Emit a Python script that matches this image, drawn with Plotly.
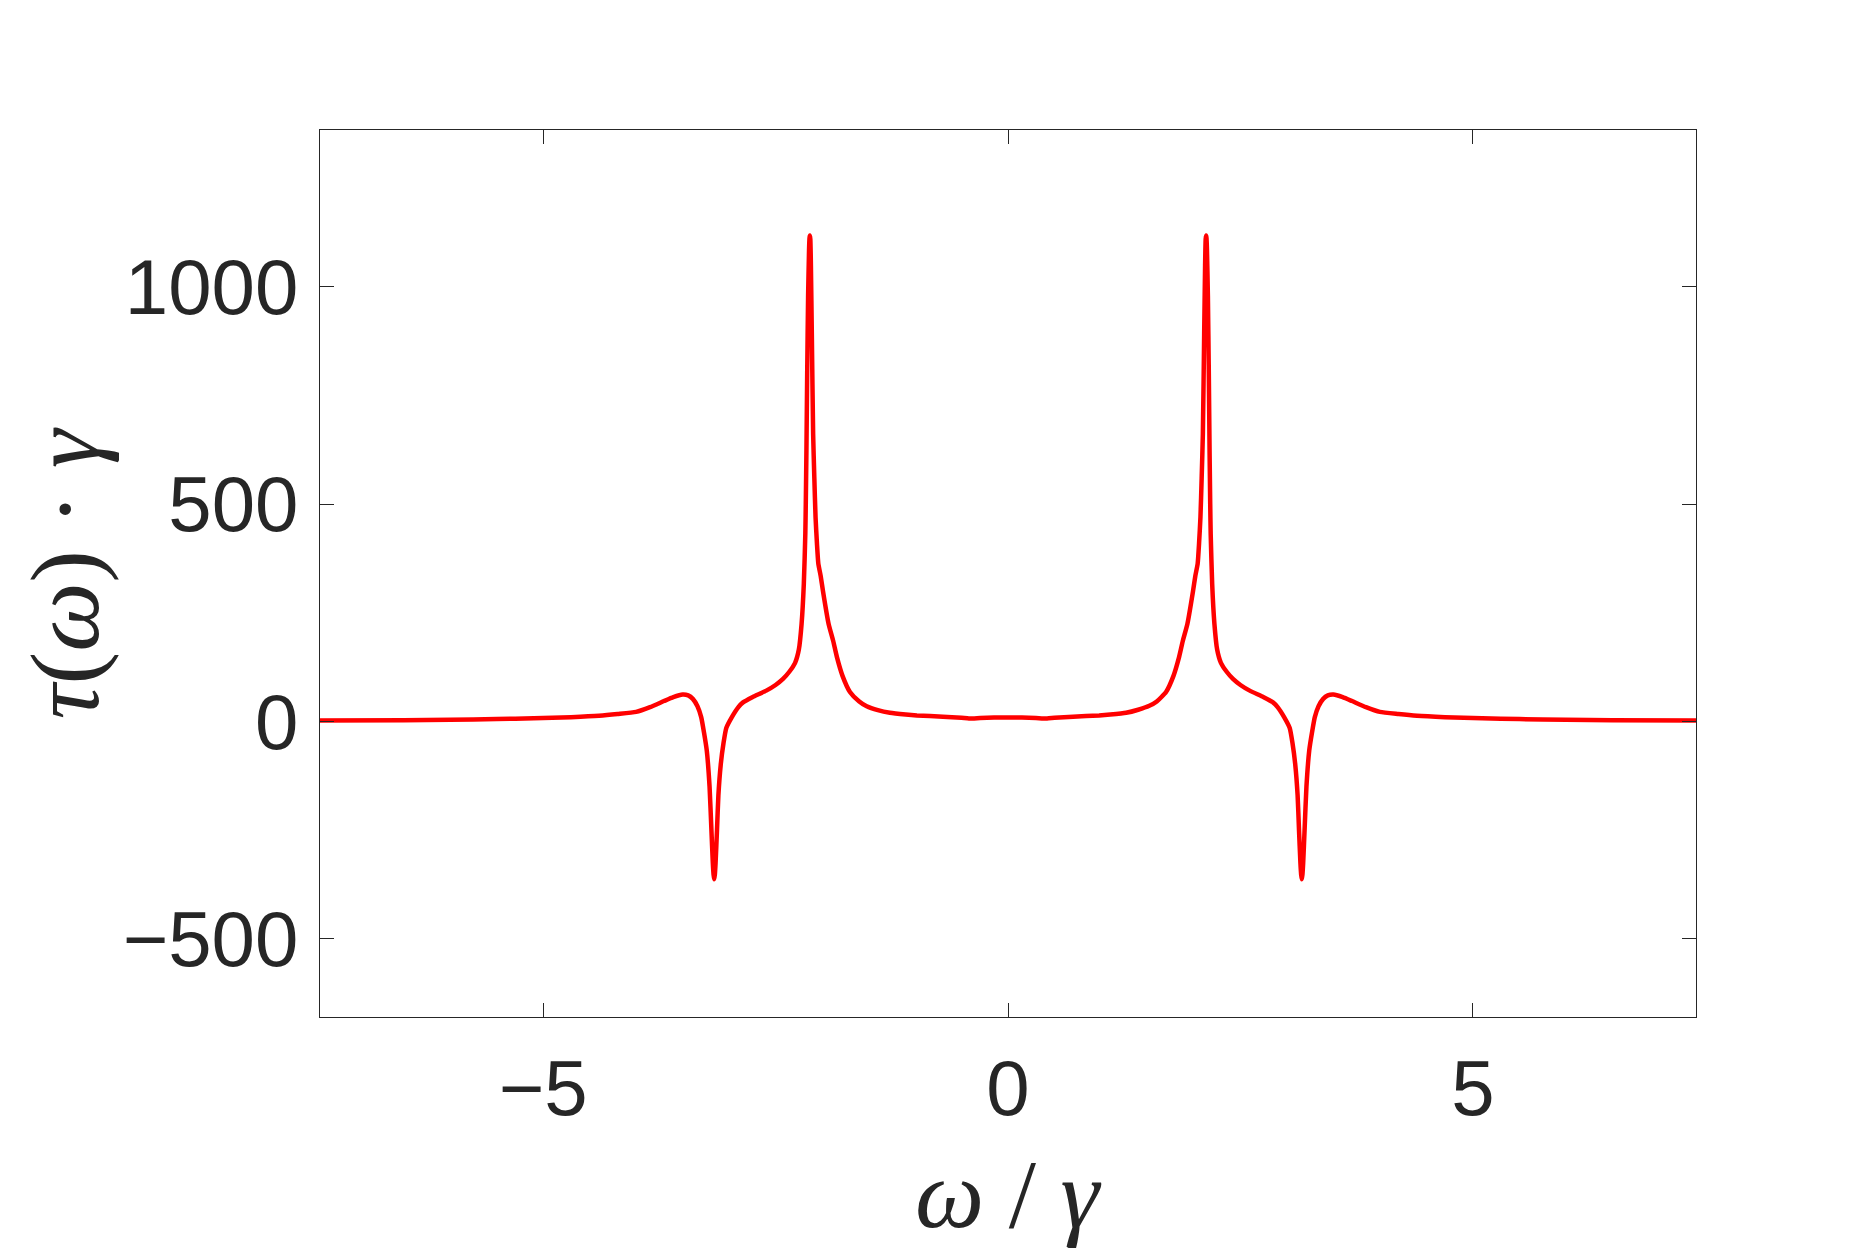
import plotly.graph_objects as go

# omega / gamma
omega = [
    -7.40, -6.50, -6.00, -5.50, -5.10, -4.70, -4.40, -4.20, -4.00, -3.85,
    -3.70, -3.60, -3.50, -3.44, -3.39, -3.34, -3.30, -3.27, -3.24, -3.21,
    -3.19, -3.175, -3.167, -3.16, -3.153, -3.145, -3.13, -3.115, -3.09, -3.06,
    -3.03, -2.97, -2.90, -2.85, -2.75, -2.60, -2.50, -2.42, -2.35, -2.29,
    -2.25, -2.22, -2.196, -2.18, -2.175, -2.168, -2.160, -2.150, -2.140, -2.135,
    -2.131, -2.126, -2.120, -2.110, -2.096, -2.083, -2.070, -2.055, -2.040, -2.015,
    -1.99, -1.93, -1.88, -1.84, -1.78, -1.70, -1.60, -1.52, -1.40, -1.27,
    -1.10, -0.98, -0.70, -0.50, -0.42, -0.30, -0.15, 0.00,
    0.15, 0.30, 0.42, 0.50, 0.70, 0.98, 1.10, 1.27, 1.40, 1.52,
    1.60, 1.70, 1.78, 1.84, 1.88, 1.93, 1.99, 2.015, 2.040, 2.055,
    2.070, 2.083, 2.096, 2.110, 2.120, 2.126, 2.131, 2.135, 2.140, 2.150,
    2.160, 2.168, 2.175, 2.18, 2.196, 2.22, 2.25, 2.29, 2.35, 2.42,
    2.50, 2.60, 2.75, 2.85, 2.90, 2.97, 3.03, 3.06, 3.09, 3.115,
    3.13, 3.145, 3.153, 3.16, 3.167, 3.175, 3.19, 3.21, 3.24, 3.27,
    3.30, 3.34, 3.39, 3.44, 3.50, 3.60, 3.70, 3.85, 4.00, 4.20,
    4.40, 4.70, 5.10, 5.50, 6.00, 6.50, 7.40,
]

# tau(omega) * gamma
tau = [
    2, 3, 4, 5.5, 7.5, 10, 13, 17, 22, 33,
    47, 56, 62, 60, 52, 35, 10, -25, -67, -150,
    -250, -325, -352, -363, -352, -325, -250, -170, -100, -50,
    -15, 10, 33, 44, 56, 71, 84, 98, 115, 135,
    165, 225, 317, 432, 500, 624, 800, 980, 1085, 1112,
    1118, 1110, 1050, 892, 662, 560, 470, 410, 363, 335,
    300, 225, 185, 148, 105, 68, 46, 35, 26, 20,
    16, 14, 11, 8.5, 7, 8, 9, 9,
    9, 8, 7, 8.5, 11, 14, 16, 20, 27, 36,
    46, 68, 105, 148, 185, 225, 300, 335, 363, 410,
    470, 560, 662, 892, 1050, 1110, 1118, 1112, 1085, 980,
    800, 624, 500, 432, 317, 225, 165, 135, 115, 98,
    84, 71, 56, 44, 33, 10, -15, -50, -100, -170,
    -250, -325, -352, -363, -352, -325, -250, -150, -67, -25,
    10, 35, 52, 60, 62, 56, 47, 33, 22, 17,
    13, 10, 7.5, 5.5, 4, 3, 2,
]

x_ticks = [-5, 0, 5]
y_ticks = [-500, 0, 500, 1000]

AX = "#262626"
TICK_FONT = dict(family="Liberation Sans, Arial, sans-serif", size=78, color=AX)
TITLE_FONT = dict(family="Liberation Serif, DejaVu Serif, serif", size=98, color=AX)

fig = go.Figure()
fig.add_trace(go.Scatter(
    x=omega, y=tau,
    mode="lines",
    line=dict(color="#ff0000", width=4.5, shape="spline", smoothing=0.5),
    showlegend=False,
    hoverinfo="skip",
))

fig.update_layout(
    width=1875, height=1250,
    paper_bgcolor="white", plot_bgcolor="white",
    margin=dict(l=312, r=187, t=122, b=241),
    annotations=[
        dict(text="<i>τ</i>(<i>ω</i>) · <i>γ</i>",
             xref="paper", yref="paper",
             x=-0.186, y=0.5, xanchor="center", yanchor="middle",
             textangle=-90, showarrow=False, font=TITLE_FONT),
        dict(text="<i>ω</i> / <i>γ</i>", xref="paper", yref="paper",
             x=0.5, y=-0.2, xanchor="center", yanchor="middle",
             showarrow=False, font=TITLE_FONT),
    ],
)

fig.update_xaxes(
    range=[-7.4, 7.4], tickvals=x_ticks, ticks="inside", ticklen=14,
    tickwidth=1, tickcolor=AX, showline=True, linecolor=AX, linewidth=1,
    mirror="ticks", showgrid=False, zeroline=False, tickfont=TICK_FONT,
    ticklabelstandoff=3,
)
fig.update_yaxes(
    range=[-680, 1361], tickvals=y_ticks, ticks="inside", ticklen=14,
    tickwidth=1, tickcolor=AX, showline=True, linecolor=AX, linewidth=1,
    mirror="ticks", showgrid=False, zeroline=False, tickfont=TICK_FONT,
    ticklabelstandoff=5,
)

fig.write_html("out.html")
